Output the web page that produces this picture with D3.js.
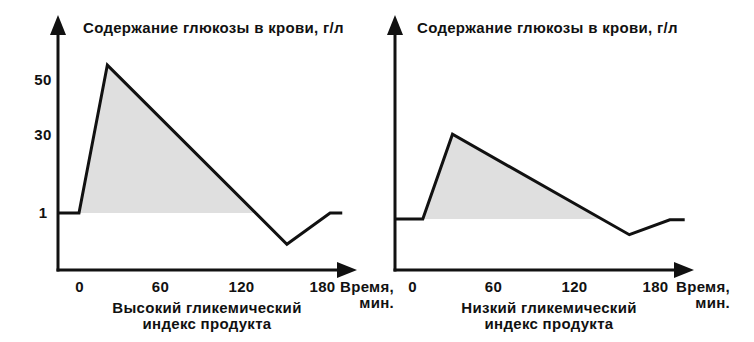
<!DOCTYPE html>
<html>
<head>
<meta charset="utf-8">
<script src="https://cdn.jsdelivr.net/npm/d3@7/dist/d3.min.js"></script>
<style>
  html, body { margin: 0; padding: 0; background: #fff; }
  svg text { font-family: "Liberation Sans", Arial, Helvetica, sans-serif; font-weight: bold; fill: #111; letter-spacing: 0.3px; }
</style>
</head>
<body>
<svg id="chart" width="754" height="342"></svg>
<script>
// Time ticks (minutes) and glucose ticks
const timeTicks = [0, 60, 120, 180];
const glucoseTicks = [1, 30, 50];

// High glycemic index product: blood glucose vs time
const highTimes  = [-15.5, 0, 21, 154, 186, 195];
const highValues = [1, 1, 55.5, -10.5, 1, 1];

// Low glycemic index product
const lowTimes  = [-12.5, 8, 30, 161, 191, 202];
const lowValues = [-1.2, -1.2, 30, -7, -1.5, -1.5];

const yTitle = "Содержание глюкозы в крови, г/л";
const xTitle = ["Время,", "мин."];
const panelCaptions = [
  ["Высокий гликемический", "индекс продукта"],
  ["Низкий гликемический", "индекс продукта"]
];

const svg = d3.select("#chart");
const fs = 15;

// Shared vertical scale
const y = d3.scaleLinear().domain([1, 50]).range([213, 80]);

const panels = [
  { times: highTimes, values: highValues, caption: panelCaptions[0], x0: 79, axisX: 58, axisEnd: 357, showY: true, titleX: 83, xTitleRight: 394, captionX: 207 },
  { times: lowTimes, values: lowValues, caption: panelCaptions[1], x0: 412, axisX: 395, axisEnd: 694, showY: false, titleX: 417, xTitleRight: 730, captionX: 549 }
];

const axisY = 270, axisTop = 15;
const stroke = "#111";

panels.forEach(p => {
  const x = d3.scaleLinear().domain([0, 180]).range([p.x0, p.x0 + 243]);
  const g = svg.append("g");
  const base = p.values[0];

  // Shaded area where glucose rises above its starting level
  const pts = p.times.map((t, i) => [t, p.values[i]]);
  const above = [];
  for (let i = 0; i < pts.length - 1; i++) {
    const [t1, v1] = pts[i], [t2, v2] = pts[i + 1];
    if (v1 >= base) above.push([t1, Math.max(v1, base)]);
    if ((v1 - base) * (v2 - base) < 0) {
      const tc = t1 + (base - v1) / (v2 - v1) * (t2 - t1);
      above.push([tc, base]);
    }
  }
  const areaPts = above.filter(d => d[0] >= p.times[1]);
  g.append("path")
    .datum(areaPts)
    .attr("fill", "#dfdfdf")
    .attr("d", d3.area().x(d => x(d[0])).y0(y(base)).y1(d => y(d[1])));

  // Axes with arrowheads
  g.append("line").attr("x1", p.axisX).attr("y1", axisY + 1.5).attr("x2", p.axisX).attr("y2", axisTop + 12)
    .attr("stroke", stroke).attr("stroke-width", 3);
  g.append("path").attr("d", `M${p.axisX},${axisTop} L${p.axisX - 8},${axisTop + 20} L${p.axisX + 8},${axisTop + 20} Z`).attr("fill", stroke);
  g.append("line").attr("x1", p.axisX - 1.5).attr("y1", axisY).attr("x2", p.axisEnd - 12).attr("y2", axisY)
    .attr("stroke", stroke).attr("stroke-width", 3);
  g.append("path").attr("d", `M${p.axisEnd},${axisY} L${p.axisEnd - 20},${axisY - 8} L${p.axisEnd - 20},${axisY + 8} Z`).attr("fill", stroke);

  // Glucose curve
  g.append("path")
    .datum(pts)
    .attr("fill", "none")
    .attr("stroke", stroke)
    .attr("stroke-width", 3)
    .attr("stroke-linejoin", "miter")
    .attr("d", d3.line().x(d => x(d[0])).y(d => y(d[1])));

  // Time tick labels
  const xAxis = d3.axisBottom(x).tickValues(timeTicks).tickSize(0).tickPadding(0);
  const xa = g.append("g").attr("transform", `translate(0,${axisY + 11})`).call(xAxis);
  xa.select(".domain").remove();
  xa.selectAll("text").attr("font-size", fs).attr("fill", "#111").attr("dy", "0.71em")
    .style("font-family", "'Liberation Sans', Arial, sans-serif").style("font-weight", "bold");

  // Glucose tick labels
  if (p.showY) {
    g.selectAll(".ylab").data(glucoseTicks).join("text")
      .attr("x", 43).attr("y", d => y(d)).attr("dy", "0.35em")
      .attr("text-anchor", "middle").attr("font-size", fs).text(d => d);
  }

  // Axis titles
  g.append("text").attr("x", p.titleX).attr("y", 33).attr("font-size", fs).text(yTitle);
  g.append("text").attr("x", p.xTitleRight).attr("y", 292).attr("text-anchor", "end").attr("font-size", fs).text(xTitle[0]);
  g.append("text").attr("x", p.xTitleRight).attr("y", 308).attr("text-anchor", "end").attr("font-size", fs).text(xTitle[1]);

  // Panel caption
  g.append("text").attr("x", p.captionX).attr("y", 313).attr("text-anchor", "middle").attr("font-size", fs).text(p.caption[0]);
  g.append("text").attr("x", p.captionX).attr("y", 329).attr("text-anchor", "middle").attr("font-size", fs).text(p.caption[1]);
});
</script>
</body>
</html>
